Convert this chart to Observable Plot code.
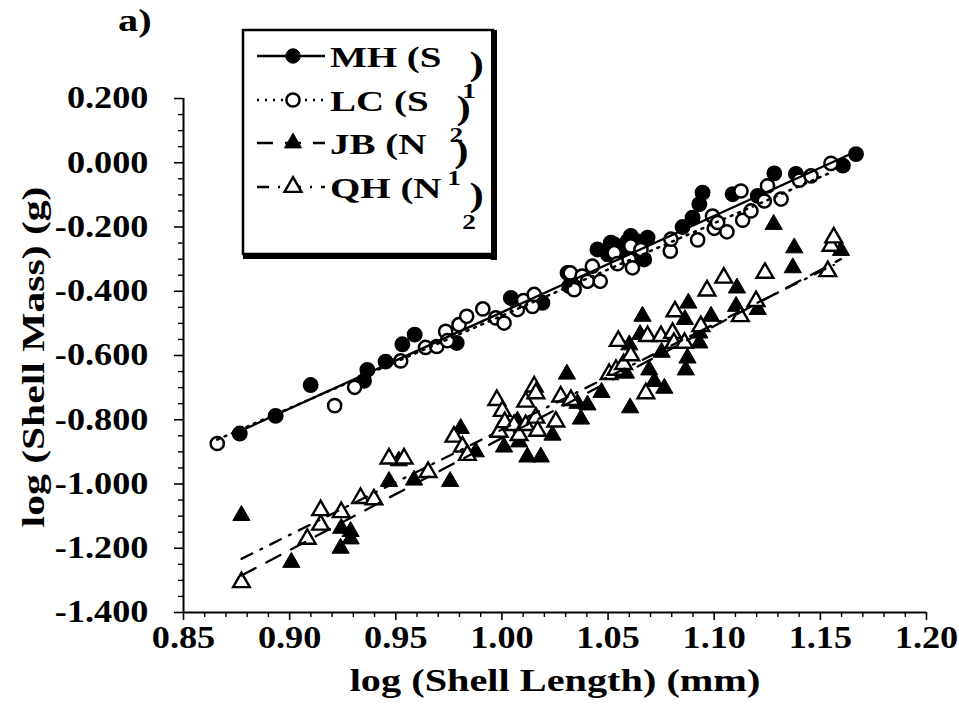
<!DOCTYPE html>
<html><head><meta charset="utf-8">
<script src="https://cdn.jsdelivr.net/npm/d3@7"></script>
<script src="https://cdn.jsdelivr.net/npm/@observablehq/plot@0.6"></script>
<style>
body{margin:0;background:#fff;}
#wrap{position:relative;width:959px;height:712px;}
#legend{position:absolute;left:0;top:0;pointer-events:none;}
</style></head><body><div id="wrap"></div>
<script>
// ---- data: log(shell length) (mm) vs log(shell mass) (g)
const mhX = [0.8765,0.8934,0.9099,0.9350,0.9366,0.9452,0.9531,0.9589,0.9787,1.0042,1.0191,1.0309,1.0317,1.0356,1.0450,1.0498,1.0513,1.0529,1.0552,1.0575,1.0592,1.0607,1.0625,1.0640,1.0670,1.0686,1.0851,1.0898,1.0930,1.0945,1.1087,1.1205,1.1283,1.1385,1.1606,1.1668];
const mhY = [-0.843,-0.788,-0.692,-0.679,-0.645,-0.619,-0.565,-0.535,-0.561,-0.421,-0.436,-0.343,-0.384,-0.358,-0.270,-0.285,-0.249,-0.254,-0.280,-0.265,-0.244,-0.228,-0.290,-0.245,-0.301,-0.233,-0.200,-0.171,-0.129,-0.093,-0.098,-0.103,-0.033,-0.035,-0.009,0.027];

const lcX = [0.8659,0.9212,0.9306,0.9523,0.9640,0.9693,0.9735,0.9743,0.9798,0.9834,0.9910,0.9971,1.0010,1.0073,1.0102,1.0144,1.0152,1.0322,1.0340,1.0378,1.0403,1.0426,1.0463,1.0529,1.0544,1.0599,1.0607,1.0615,1.0655,1.0793,1.0796,1.0922,1.0992,1.1000,1.1016,1.1060,1.1126,1.1134,1.1173,1.1236,1.1251,1.1315,1.1401,1.1456,1.1550];
const lcY = [-0.874,-0.756,-0.699,-0.617,-0.575,-0.572,-0.525,-0.554,-0.504,-0.478,-0.455,-0.483,-0.499,-0.457,-0.429,-0.447,-0.410,-0.343,-0.395,-0.353,-0.369,-0.322,-0.369,-0.280,-0.314,-0.301,-0.259,-0.327,-0.270,-0.275,-0.238,-0.240,-0.166,-0.204,-0.186,-0.215,-0.088,-0.179,-0.150,-0.119,-0.072,-0.113,-0.054,-0.041,-0.002];

const jbX = [0.8773,0.9008,0.9240,0.9243,0.9287,0.9287,0.9468,0.9514,0.9586,0.9756,0.9806,0.9877,1.0010,1.0073,1.0081,1.0120,1.0183,1.0238,1.0306,1.0356,1.0372,1.0403,1.0469,1.0584,1.0600,1.0604,1.0651,1.0662,1.0694,1.0718,1.0752,1.0765,1.0862,1.0866,1.0874,1.0878,1.0930,1.0930,1.0985,1.1103,1.1107,1.1205,1.1280,1.1370,1.1377,1.1597];
const jbY = [-1.098,-1.244,-1.200,-1.138,-1.148,-1.171,-0.992,-0.928,-0.988,-0.992,-0.827,-0.900,-0.885,-0.804,-0.869,-0.916,-0.916,-0.848,-0.658,-0.749,-0.798,-0.754,-0.715,-0.655,-0.567,-0.763,-0.535,-0.478,-0.645,-0.681,-0.590,-0.702,-0.488,-0.645,-0.608,-0.437,-0.530,-0.561,-0.478,-0.447,-0.390,-0.457,-0.192,-0.327,-0.265,-0.273];

const qhX = [0.8773,0.9083,0.9146,0.9146,0.9243,0.9334,0.9397,0.9468,0.9539,0.9652,0.9774,0.9814,0.9837,0.9976,0.9987,1.0002,1.0013,1.0057,1.0081,1.0112,1.0112,1.0152,1.0160,1.0160,1.0168,1.0254,1.0277,1.0325,1.0505,1.0537,1.0548,1.0573,1.0607,1.0678,1.0686,1.0749,1.0804,1.0810,1.0815,1.0860,1.0937,1.0966,1.1045,1.1123,1.1197,1.1239,1.1535,1.1550,1.1563];
const qhY = [-1.306,-1.171,-1.127,-1.082,-1.088,-1.044,-1.048,-0.921,-0.921,-0.963,-0.853,-0.884,-0.910,-0.739,-0.838,-0.773,-0.808,-0.817,-0.848,-0.817,-0.744,-0.697,-0.718,-0.794,-0.835,-0.806,-0.728,-0.739,-0.658,-0.645,-0.555,-0.627,-0.600,-0.718,-0.540,-0.540,-0.530,-0.561,-0.463,-0.561,-0.509,-0.398,-0.358,-0.478,-0.431,-0.343,-0.338,-0.259,-0.233];

// regression line end points
const fitSeries = ["MH","LC","JB","QH"];
const fitX0 = [0.8765,0.8659,0.8773,0.8773];
const fitY0 = [-0.836,-0.862,-1.285,-1.233];
const fitX1 = [1.1668,1.1550,1.1597,1.1563];
const fitY1 = [0.035,-0.030,-0.300,-0.318];

const xTicks = [0.85,0.90,0.95,1.00,1.05,1.10,1.15,1.20];
const yTicks = [0.2,0,-0.2,-0.4,-0.6,-0.8,-1.0,-1.2,-1.4];
const legendNames = ["MH (S","LC (S","JB (N","QH (N"];
const legendSubs = ["1","2","1","2"];
const xTitle = "log (Shell Length) (mm)";
const yTitle = "log (Shell Mass) (g)";
const panelTag = "a)";

// ---- styles
const dash = {MH: null, LC: "2,6", JB: "16,12", QH: "12,9,2,9"};

const pts = (xs, ys, s) => xs.map((x, i) => ({x, y: ys[i], s}));
const mh = pts(mhX, mhY, "MH"), lc = pts(lcX, lcY, "LC"), jb = pts(jbX, jbY, "JB"), qh = pts(qhX, qhY, "QH");
const fits = fitSeries.flatMap((s, i) => [{s, x: fitX0[i], y: fitY0[i]}, {s, x: fitX1[i], y: fitY1[i]}]);

const xMinor = d3.range(85, 121).map(v => v / 100).filter(v => !xTicks.some(t => Math.abs(t - v) < 1e-6));
const yMinor = d3.range(-28, 5).map(v => v * 0.05).filter(v => !yTicks.some(t => Math.abs(t - v) < 1e-6));
const fmtY = d => (d < -1e-9 ? "-" : "") + Math.abs(d).toFixed(3);

const FONT = "'Liberation Serif', 'Times New Roman', serif";

const plot = Plot.plot({
  width: 959, height: 712,
  marginLeft: 183, marginRight: 33, marginTop: 98, marginBottom: 100,
  x: {domain: [0.85, 1.2]},
  y: {domain: [-1.4, 0.2]},
  style: {fontFamily: FONT, fontWeight: "bold", background: "white", color: "black", overflow: "visible"},
  marks: [
    Plot.ruleX([0.85], {y1: -1.4, y2: 0.2, stroke: "black", strokeWidth: 2}),
    Plot.ruleY([-1.4], {x1: 0.85, x2: 1.2, stroke: "black", strokeWidth: 2}),
    Plot.axisY({ticks: yTicks, tickSize: 9, tickPadding: 26, tickFormat: fmtY, fontSize: 31, strokeWidth: 1.6, label: null}),
    Plot.axisY({ticks: yMinor, tickSize: 5, tickFormat: () => "", strokeWidth: 1.4, label: null}),
    Plot.axisX({ticks: xTicks, tickSize: 8, tickPadding: 5, tickFormat: d => d.toFixed(2), fontSize: 31, strokeWidth: 1.6, label: null}),
    Plot.axisX({ticks: xMinor, tickSize: 5, tickFormat: () => "", strokeWidth: 1.4, label: null}),
    Plot.dot(mh, {x: "x", y: "y", r: 7.2, fill: "black", stroke: "black"}),
    Plot.dot(jb, {x: "x", y: "y", symbol: "triangle", r: 6.4, fill: "black", stroke: "black", strokeWidth: 1}),
    Plot.dot(lc, {x: "x", y: "y", r: 6.6, fill: "white", stroke: "black", strokeWidth: 2.5}),
    Plot.dot(qh, {x: "x", y: "y", symbol: "triangle", r: 6.2, fill: "white", stroke: "black", strokeWidth: 2.4}),
    ...fitSeries.map(s => Plot.line(fits.filter(d => d.s === s), {x: "x", y: "y", stroke: "black", strokeWidth: s === "LC" ? 2.5 : 2.3, strokeDasharray: dash[s]})),
    Plot.text([xTitle], {frameAnchor: "bottom", dy: 78, fontSize: 31, fontWeight: "bold"})
  ]
});

const wrap = document.getElementById("wrap");
wrap.appendChild(plot);

// ---- overlay: legend box, y title and panel tag
const leg = d3.select(wrap).append("svg").attr("id", "legend").attr("width", 959).attr("height", 712)
  .style("font-family", FONT).style("font-weight", "bold");
leg.append("text").attr("class", "st13").attr("x", 33).attr("y", 357)
  .attr("transform", "rotate(-90,33,357)").attr("text-anchor", "middle").attr("dominant-baseline", "central")
  .attr("font-size", 32).text(yTitle);
leg.append("text").attr("class", "st13").attr("x", 118).attr("y", 31).attr("font-size", 31).text(panelTag);

leg.append("rect").attr("x", 243).attr("y", 30).attr("width", 250).attr("height", 224)
  .attr("fill", "white").attr("stroke", "black").attr("stroke-width", 2.5);
leg.append("rect").attr("x", 491).attr("y", 30).attr("width", 6).attr("height", 230).attr("fill", "black");
leg.append("rect").attr("x", 243).attr("y", 253).attr("width", 254).attr("height", 6).attr("fill", "black");
const rowY = [56, 100, 143, 187];
fitSeries.forEach((s, i) => {
  const y = rowY[i];
  const g = leg.append("g");
  g.append("line").attr("x1", 257).attr("x2", 325).attr("y1", y).attr("y2", y)
    .attr("stroke", "black").attr("stroke-width", 2.3).attr("stroke-dasharray", dash[s]);
  const filled = s === "MH" || s === "JB";
  if (s === "MH" || s === "LC") {
    g.append("circle").attr("cx", 293).attr("cy", y).attr("r", filled ? 7.2 : 6.6)
      .attr("fill", filled ? "black" : "white").attr("stroke", "black").attr("stroke-width", filled ? 1 : 2.5);
  } else {
    g.append("path").attr("transform", `translate(293,${y})`)
      .attr("d", d3.symbol(d3.symbolTriangle, Math.PI * 6.3 * 6.3)())
      .attr("fill", filled ? "black" : "white").attr("stroke", "black").attr("stroke-width", filled ? 1 : 2.4);
  }
  const t = g.append("text").attr("class", "st13").attr("x", 330).attr("y", y + 11).attr("font-size", 30);
  t.append("tspan").text(legendNames[i]);
  t.append("tspan").attr("dx", 16).attr("dy", 31).attr("font-size", 21).text(legendSubs[i]);
  t.append("tspan").attr("dx", -5).attr("dy", -23).attr("font-size", 33).text(")");
});

// horizontal stretch of the heavy serif lettering about each text's own anchor
function stretchText(t, s) {
  const xa = t.getAttribute("x");
  const X = xa && /^-?[\d.]+$/.test(xa.trim()) ? parseFloat(xa) : 0;
  const tr = t.getAttribute("transform") || "";
  t.setAttribute("transform", `${tr} translate(${X},0) scale(${s},1) translate(${-X},0)`.trim());
}
plot.querySelectorAll('g[aria-label$="tick label"] text').forEach(t => stretchText(t, 1.17));
plot.querySelectorAll('g[aria-label="text"] text').forEach(t => stretchText(t, 1.3));
document.querySelectorAll("#legend text.st13").forEach(t => stretchText(t, 1.3));
</script>
</body></html>
